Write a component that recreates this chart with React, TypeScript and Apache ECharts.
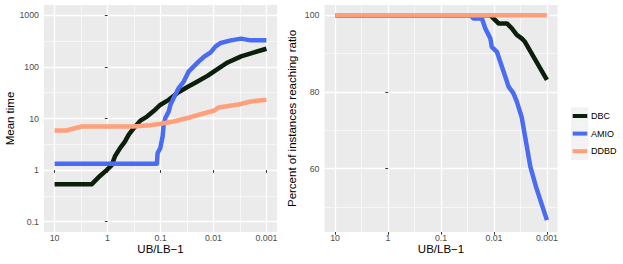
import React, { useEffect, useRef } from "react";
import * as echarts from "echarts";

const seriesNames = ["DBC", "AMIO", "DDBD"];
const seriesColors = ["#0b1f0b", "#4a6cf0", "#ffa07a"];

// Shared tick labels
const gapTicks = [10, 1, 0.1, 0.01, 0.001];
const gapTickLabels = ["10", "1", "0.1", "0.01", "0.001"];
const timeTicks = [0.1, 1, 10, 100, 1000];
const timeTickLabels = ["0.1", "1", "10", "100", "1000"];
const pctTicks = [60, 80, 100];
const pctMinor = [50, 70, 90];

// Left panel: mean time vs UB/LB-1
const dbcTimeGap = [10, 2.0, 1.39, 1.04, 0.835, 0.72, 0.58, 0.47, 0.4, 0.32, 0.24, 0.18, 0.126, 0.1, 0.07, 0.0486, 0.031, 0.02, 0.013, 0.0084, 0.0054, 0.003, 0.0017, 0.001];
const dbcTime = [0.53, 0.53, 0.77, 1.0, 1.25, 1.87, 2.66, 3.57, 4.82, 6.5, 9.1, 10.9, 14.8, 18.5, 23, 31, 40.7, 52, 67, 91, 122, 160, 191, 225];

const amioTimeGap = [10, 0.117, 0.1135, 0.101, 0.0912, 0.0873, 0.081, 0.07, 0.065, 0.0564, 0.0453, 0.0364, 0.0292, 0.0235, 0.0189, 0.0152, 0.0113, 0.0091, 0.0073, 0.0047, 0.003, 0.002, 0.001];
const amioTime = [1.32, 1.32, 2.13, 2.66, 4.47, 7.5, 10.2, 13.7, 18.5, 24.9, 38.9, 52, 82, 102, 128, 156, 191, 250, 291, 327, 353, 327, 327];

const ddbdTimeGap = [10, 6.0, 3.1, 0.33, 0.157, 0.1, 0.057, 0.031, 0.0175, 0.0099, 0.008, 0.0036, 0.00196, 0.001];
const ddbdTime = [5.85, 5.85, 7.0, 7.0, 7.4, 7.9, 8.75, 10.2, 12.1, 14.1, 16.4, 18.4, 21.4, 23];

// Right panel: percent of instances reaching ratio
const dbcPctGap = [10, 0.0116, 0.0102, 0.0082, 0.0057, 0.0046, 0.0037, 0.003, 0.0026, 0.001];
const dbcPct = [100, 100, 99.2, 97.9, 97.9, 96.6, 94.9, 94.0, 93.1, 83.2];

const amioPctGap = [10, 0.0277, 0.0243, 0.0169, 0.0146, 0.0117, 0.011, 0.0088, 0.0076, 0.0061, 0.0053, 0.0043, 0.0037, 0.003, 0.00206, 0.0016, 0.001];
const amioPct = [100, 100, 99.2, 99.2, 96.6, 94.0, 91.8, 90.5, 87.9, 84.0, 81.4, 79.7, 77.5, 73.5, 60.6, 55.2, 46.6];

const ddbdPctGap = [10, 0.001];
const ddbdPct = [100, 100];

const FONT = "'Liberation Sans', Arial, Helvetica, sans-serif";

const toX = (r: number) => -Math.log10(r);
const toLogY = (t: number) => Math.log10(t);
const ident = (v: number) => v;

function pairs(xs: number[], ys: number[], fy: (v: number) => number) {
  return xs.map((x, i) => [toX(x), fy(ys[i])]);
}

const majorX = gapTicks.map(toX);
const minorX = [-0.5, 0.5, 1.5, 2.5];
const majorLogY = timeTicks.map(toLogY);
const minorLogY = [-0.5, 0.5, 1.5, 2.5];

function lookupLabel(v: number, vals: number[], labels: string[]) {
  for (let i = 0; i < vals.length; i++) {
    if (Math.abs(vals[i] - v) < 1e-6) return labels[i];
  }
  return "";
}

const tickStyle = { show: true, length: 2.7, lineStyle: { color: "#333333", width: 1 } };
const labelStyle = { color: "#4d4d4d", fontSize: 8.8, fontFamily: FONT };

function mainXAxis(gridIndex: number) {
  return {
    type: "value",
    gridIndex,
    min: -1.2,
    max: 3.2,
    axisLine: { show: false },
    axisTick: { ...tickStyle, customValues: majorX },
    axisLabel: {
      ...labelStyle,
      margin: 1.5,
      lineHeight: 9,
      customValues: majorX,
      formatter: (v: number) => lookupLabel(v, majorX, gapTickLabels),
    },
    splitLine: { show: true, customValues: majorX, lineStyle: { color: "#ffffff", width: 1.3 } },
  };
}
function minorXAxis(gridIndex: number) {
  return {
    type: "value",
    gridIndex,
    min: -1.2,
    max: 3.2,
    axisLine: { show: false },
    axisTick: { show: false, customValues: minorX },
    axisLabel: { show: false, customValues: minorX },
    splitLine: { show: true, customValues: minorX, lineStyle: { color: "#ffffff", width: 0.6 } },
  };
}

export default function App() {
  const ref = useRef<HTMLDivElement>(null);
  useEffect(() => {
    if (!ref.current) return;
    const chart = echarts.init(ref.current, undefined, { renderer: "svg" });
    const lineSeries = (name: string, i: number, data: number[][], xi: number, yi: number) => ({
      name,
      type: "line",
      xAxisIndex: xi,
      yAxisIndex: yi,
      data,
      showSymbol: false,
      symbol: "none",
      clip: true,
      z: 3 + i,
      lineStyle: { color: seriesColors[i], width: 4.5, cap: "butt", join: "round" },
      itemStyle: { color: seriesColors[i] },
    });
    const legendItems: any[] = [];
    seriesNames.forEach((name, i) => {
      const cy = 116 + i * 17.6;
      legendItems.push({ type: "rect", shape: { x: 571, y: cy - 8.6, width: 17.3, height: 17.3 }, style: { fill: "#f2f2f2" } });
      legendItems.push({ type: "line", shape: { x1: 572.7, y1: cy, x2: 587.3, y2: cy }, style: { stroke: seriesColors[i], lineWidth: 4 } });
      legendItems.push({ type: "text", x: 591, y: cy, style: { text: name, fontSize: 9, fontFamily: FONT, fill: "#000", align: "left", verticalAlign: "middle" } });
    });
    const titleStyle = { fontSize: 11.5, fontFamily: FONT, fill: "#000", align: "center", verticalAlign: "middle", lineHeight: 12 };
    const option: any = {
      animation: false,
      backgroundColor: "#ffffff",
      grid: [
        { left: 44, top: 5, width: 233, height: 227, show: true, backgroundColor: "#ebebeb", borderWidth: 0 },
        { left: 324.5, top: 5, width: 233, height: 227, show: true, backgroundColor: "#ebebeb", borderWidth: 0 },
      ],
      xAxis: [mainXAxis(0), mainXAxis(1), minorXAxis(0), minorXAxis(1)],
      yAxis: [
        {
          type: "value",
          gridIndex: 0,
          min: -1.2,
          max: 3.2,
          axisLine: { show: false },
          axisTick: { ...tickStyle, customValues: majorLogY },
          axisLabel: { ...labelStyle, margin: 5, customValues: majorLogY, formatter: (v: number) => lookupLabel(v, majorLogY, timeTickLabels) },
          splitLine: { show: true, customValues: majorLogY, lineStyle: { color: "#ffffff", width: 1.3 } },
        },
        {
          type: "value",
          gridIndex: 1,
          min: 43.5,
          max: 102.7,
          axisLine: { show: false },
          axisTick: { ...tickStyle, customValues: pctTicks },
          axisLabel: { ...labelStyle, margin: 5, customValues: pctTicks, formatter: (v: number) => String(Math.round(v)) },
          splitLine: { show: true, customValues: pctTicks, lineStyle: { color: "#ffffff", width: 1.3 } },
        },
        {
          type: "value",
          gridIndex: 0,
          min: -1.2,
          max: 3.2,
          axisLine: { show: false },
          axisTick: { show: false, customValues: minorLogY },
          axisLabel: { show: false, customValues: minorLogY },
          splitLine: { show: true, customValues: minorLogY, lineStyle: { color: "#ffffff", width: 0.6 } },
        },
        {
          type: "value",
          gridIndex: 1,
          min: 43.5,
          max: 102.7,
          axisLine: { show: false },
          axisTick: { show: false, customValues: pctMinor },
          axisLabel: { show: false, customValues: pctMinor },
          splitLine: { show: true, customValues: pctMinor, lineStyle: { color: "#ffffff", width: 0.6 } },
        },
      ],
      series: [
        lineSeries("DBC", 0, pairs(dbcTimeGap, dbcTime, toLogY), 0, 0),
        lineSeries("AMIO", 1, pairs(amioTimeGap, amioTime, toLogY), 0, 0),
        lineSeries("DDBD", 2, pairs(ddbdTimeGap, ddbdTime, toLogY), 0, 0),
        lineSeries("DBC", 0, pairs(dbcPctGap, dbcPct, ident), 1, 1),
        lineSeries("AMIO", 1, pairs(amioPctGap, amioPct, ident), 1, 1),
        lineSeries("DDBD", 2, pairs(ddbdPctGap, ddbdPct, ident), 1, 1),
      ],
      graphic: [
        { type: "text", x: 9.5, y: 118.5, rotation: Math.PI / 2, style: { ...titleStyle, text: "Mean time" } },
        { type: "text", x: 291.5, y: 118.5, rotation: Math.PI / 2, style: { ...titleStyle, text: "Percent of instances reaching ratio" } },
        { type: "text", x: 160.5, y: 248.5, style: { ...titleStyle, text: "UB/LB\u22121" } },
        { type: "text", x: 441, y: 248.5, style: { ...titleStyle, text: "UB/LB\u22121" } },
        ...legendItems,
      ],
    };
    chart.setOption(option);
    return () => chart.dispose();
  }, []);
  return (
    <div
      ref={ref}
      style={{ position: "fixed", left: 0, top: 0, width: 623, height: 264, background: "#fff" }}
    />
  );
}
